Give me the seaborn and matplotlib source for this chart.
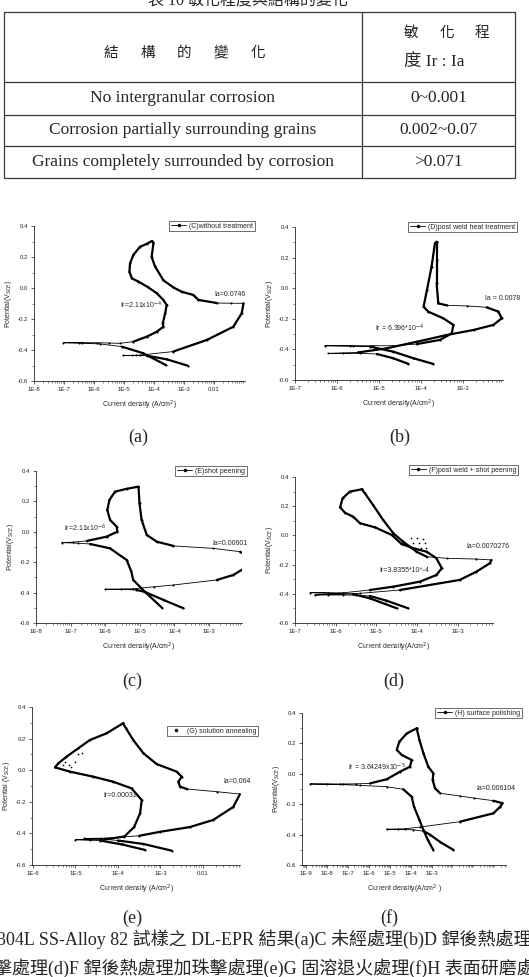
import numpy as np
import pandas as pd
import seaborn as sns
import matplotlib.pyplot as plt
from matplotlib.lines import Line2D
from matplotlib.ticker import LogLocator, MultipleLocator, NullFormatter

sns.set_style("ticks")
plt.rcParams['font.family'] = ['Liberation Sans', 'Noto Sans CJK TC']
plt.rcParams['mathtext.fontset'] = 'dejavusans'
SERIF = ['Liberation Serif', 'Noto Sans CJK TC']

# ---------------- table ----------------
table_title = "表 10 敏化程度與結構的變化"
table_head_left = "結構的變化"
table_head_right = ["敏化程", "度 Ir : Ia"]
table_structure = ["No intergranular corrosion",
                   "Corrosion partially surrounding grains",
                   "Grains completely surrounded by corrosion"]
table_ratio = ["0~0.001", "0.002~0.07", ">0.071"]

# ---------------- DL-EPR curves (log10 current density, potential V) ----------------
a_fwd_logi = [-2.88, -3.58, -4.24, -4.6, -5.02, -4.75, -4.47, -3.36, -2.24, -1.36, -1.08, -1.02,
              -1.45, -1.91, -2.52, -2.63, -2.69, -3.08, -3.36, -3.69, -3.97, -4.08, -4.02, -4.07]
a_fwd_E = [-0.501, -0.46, -0.437, -0.435, -0.435, -0.435, -0.433, -0.41, -0.335, -0.25, -0.163, -0.099,
           -0.098, -0.097, -0.077, -0.056, -0.045, -0.024, 0.004, 0.05, 0.14, 0.2, 0.29, 0.303]
a_rev_logi = [-4.07, -4.24, -4.47, -4.69, -4.8, -4.82, -4.74, -4.52, -4.19, -3.91, -3.69, -3.58, -3.63,
              -3.71, -3.69, -3.91, -4.24, -4.69, -5.13, -5.5, -5.91, -6.5, -7.02, -6.4, -5.8, -5.08,
              -4.36, -3.61]
a_rev_E = [0.303, 0.285, 0.266, 0.213, 0.159, 0.105, 0.062, 0.041, 0.004, -0.034, -0.077, -0.11, -0.163,
           -0.228, -0.25, -0.282, -0.314, -0.346, -0.357, -0.355, -0.353, -0.353, -0.353, -0.356, -0.361,
           -0.378, -0.421, -0.497]

b_fwd_logi = [-4.30, -4.66, -5.05, -5.45, -5.85, -6.21, -5.5, -4.82, -4.1, -3.39, -2.75, -2.28, -2.08,
              -2.16, -2.44, -2.91, -3.39, -3.59, -3.63, -3.63, -3.63]
b_fwd_E = [-0.495, -0.458, -0.43, -0.426, -0.426, -0.426, -0.42, -0.393, -0.35, -0.306, -0.273, -0.24,
           -0.197, -0.153, -0.125, -0.116, -0.112, -0.099, 0.032, 0.184, 0.304]
b_rev_logi = [-3.63, -3.67, -3.75, -3.86, -3.94, -3.83, -3.47, -3.23, -3.27, -3.55, -4.1, -4.66, -5.14,
              -5.61, -6.29, -5.7, -5.21, -4.66, -4.18, -3.71]
b_rev_E = [0.304, 0.293, 0.141, -0.012, -0.121, -0.153, -0.197, -0.24, -0.295, -0.338, -0.365, -0.376,
           -0.376, -0.376, -0.376, -0.379, -0.382, -0.415, -0.458, -0.495]

c_fwd_logi = [-3.74, -4.3, -4.85, -5.1, -5.55, -6.0, -5.2, -4.6, -4.03, -2.78, -2.3, -1.91, -1.84, -2.1,
              -2.88, -4.03, -4.51, -4.8, -4.95, -5.01, -5.04]
c_fwd_E = [-0.503, -0.45, -0.396, -0.382, -0.379, -0.378, -0.375, -0.362, -0.35, -0.317, -0.284, -0.23,
           -0.164, -0.131, -0.109, -0.093, -0.065, -0.021, 0.078, 0.187, 0.297]
c_rev_logi = [-5.04, -5.38, -5.72, -5.88, -5.94, -5.86, -5.67, -5.65, -5.96, -6.53, -6.92, -7.26, -6.8,
              -6.44, -5.86, -5.38, -5.25, -5.19, -4.85, -4.36]
c_rev_E = [0.297, 0.283, 0.264, 0.209, 0.143, 0.078, 0.034, 0.001, -0.032, -0.06, -0.068, -0.071, -0.075,
           -0.08, -0.109, -0.186, -0.26, -0.317, -0.396, -0.50]

d_fwd_logi = [-4.22, -4.75, -5.16, -5.5, -5.81, -6.2, -6.51, -5.4, -4.42, -2.95, -2.54, -2.21, -2.17,
              -2.54, -3.27, -3.76, -4.01, -4.34, -4.58, -4.83, -5.08, -5.28, -5.36]
d_fwd_E = [-0.499, -0.447, -0.415, -0.41, -0.408, -0.408, -0.408, -0.397, -0.374, -0.305, -0.249, -0.191,
           -0.168, -0.162, -0.157, -0.146, -0.112, -0.043, 0.014, 0.105, 0.208, 0.288, 0.316]
d_rev_logi = [-5.36, -5.65, -5.83, -5.89, -5.77, -5.57, -5.4, -5.03, -4.62, -4.38, -4.09, -3.76, -3.52,
              -3.39, -3.52, -3.93, -4.58, -5.16, -5.81, -6.2, -6.63, -5.57, -5.16, -4.5]
d_rev_E = [0.316, 0.30, 0.254, 0.192, 0.155, 0.128, 0.083, 0.055, 0.003, -0.059, -0.088, -0.112, -0.157,
           -0.225, -0.271, -0.317, -0.351, -0.374, -0.393, -0.393, -0.392, -0.402, -0.431, -0.499]
d_noise_logi = [-4.15, -4.0, -3.85, -4.1, -3.95, -3.8, -4.05, -3.9, -3.78]
d_noise_E = [-0.018, -0.02, -0.022, -0.05, -0.052, -0.054, -0.084, -0.086, -0.088]

e_fwd_logi = [-2.74, -3.4, -4.0, -4.4, -4.8, -4.3, -3.5, -3.01, -2.31, -1.76, -1.29, -1.13, -1.68, -2.38,
              -2.54, -2.58, -2.5, -2.62, -3.09, -3.4, -3.64, -3.81, -3.88]
e_fwd_E = [-0.509, -0.467, -0.445, -0.435, -0.432, -0.43, -0.415, -0.39, -0.36, -0.315, -0.233, -0.151,
           -0.136, -0.119, -0.104, -0.073, -0.041, -0.009, 0.039, 0.107, 0.191, 0.265, 0.297]
e_rev_logi = [-3.88, -4.27, -4.66, -4.93, -5.21, -5.4, -5.48, -5.13, -4.58, -4.11, -3.68, -3.44, -3.48,
              -3.62, -3.85, -4.3, -4.65, -5.0, -4.42, -3.9, -3.36]
e_rev_E = [0.297, 0.233, 0.191, 0.139, 0.085, 0.044, 0.018, -0.009, -0.041, -0.073, -0.115, -0.189,
           -0.273, -0.36, -0.42, -0.438, -0.44, -0.44, -0.445, -0.47, -0.505]
e_noise_logi = [-5.3, -5.15, -5.0, -5.25, -4.95, -4.85, -5.1]
e_noise_E = [0.03, 0.035, 0.05, 0.055, 0.1, 0.11, 0.02]

f_fwd_logi = [-1.98, -2.6, -3.1, -3.4, -3.9, -4.6, -5.16, -4.3, -3.57, -1.67, -0.08, 0.25, 0.35, -0.08,
              -1.0, -1.67, -2.62, -2.86, -2.97, -2.94, -3.18, -3.41, -3.6, -3.73]
f_fwd_E = [-0.501, -0.45, -0.40, -0.378, -0.368, -0.366, -0.365, -0.362, -0.35, -0.315, -0.26, -0.216,
           -0.194, -0.177, -0.16, -0.146, -0.128, -0.095, -0.041, 0.003, 0.047, 0.135, 0.222, 0.299]
f_rev_logi = [-3.73, -4.2, -4.56, -4.68, -4.44, -3.97, -4.05, -4.52, -5.16, -5.95, -6.6, -7.22, -8.0,
              -8.81, -7.4, -6.43, -5.16, -4.37, -3.97, -3.86, -3.6, -3.41, -3.2, -2.94]
f_rev_E = [0.299, 0.266, 0.211, 0.157, 0.124, 0.091, 0.047, 0.014, -0.036, -0.063, -0.066, -0.067, -0.067,
           -0.067, -0.07, -0.076, -0.085, -0.102, -0.151, -0.216, -0.304, -0.37, -0.435, -0.501]

legend_labels = ["(C)without treatment", "(D)post weld heat treatment", "(E)shot peening",
                 "(F)post weld + shot peening", "(G) solution annealing", "(H) surface polishing"]
ir_labels = ["Ir=2.11x10$^{-4}$", "Ir = 6.396*10$^{-4}$", "Ir=2.11x10$^{-6}$", "Ir=3.8355*10^-4",
             "Ir=0.00031", "Ir = 3.64249x10$^{-5}$"]
ia_labels = ["Ia=0.0746", "Ia = 0.0078", "Ia=0.00601", "Ia=0.0070276", "Ia=0.064", "Ia=0.006104"]
panel_tags = ["(a)", "(b)", "(c)", "(d)", "(e)", "(f)"]
x_labels = ["Current density (A/cm$^2$)", "Current density(A/cm$^2$)", "Current density(A/cm$^2$)",
            "Current density(A/cm$^2$)", "Current density (A/cm$^2$)", "Current density(A/cm$^2$ )"]
y_labels = ["Potential(V$_{SCE}$)"] * 4 + ["Potential (V$_{SCE}$)", "Potential(V$_{SCE}$)"]
x_decades = [(-8, -2), (-7, -3), (-8, -3), (-7, -3), (-6, -2), (-9, -3)]
y_ticks = [-0.6, -0.4, -0.2, 0.0, 0.2, 0.4]

caption_line1 = "304L SS-Alloy 82 試樣之 DL-EPR 結果(a)C 未經處理(b)D 銲後熱處理"
caption_line2 = "擊處理(d)F 銲後熱處理加珠擊處理(e)G 固溶退火處理(f)H 表面研磨處理"

# ---------------- layout (pixels) ----------------
W, H = 529, 977
# axes box: left, top, right, bottom px ; log10 x-limits
boxes = [(34, 226, 245, 381), (295, 227, 503, 380), (36, 471, 242, 623),
         (295, 477, 493, 623), (32, 707, 240, 865), (302, 713, 506, 865)]
xlims = [(-8.0, -0.97), (-7.0, -2.05), (-8.0, -2.05), (-7.0, -2.13), (-6.02, -1.13), (-9.19, 0.52)]
legend_corner = [(255, 221), (517, 222), (247, 466), (518, 465), (258, 726), (522, 708)]
ir_pos = [(-4.43, -0.11), (-4.52, -0.262), (-6.58, 0.025), (-4.32, -0.237), (-3.95, -0.157), (-5.62, 0.045)]
ia_pos = [(-1.47, -0.04), (-2.07, -0.065), (-2.39, -0.075), (-2.26, -0.073), (-1.2, -0.073), (0.05, -0.1)]
tag_pos = [(138, 437), (400, 437), (132, 681), (394, 681), (132, 918), (389, 918)]

curves = [[(a_fwd_logi, a_fwd_E), (a_rev_logi, a_rev_E)],
          [(b_fwd_logi, b_fwd_E), (b_rev_logi, b_rev_E)],
          [(c_fwd_logi, c_fwd_E), (c_rev_logi, c_rev_E)],
          [(d_fwd_logi, d_fwd_E), (d_rev_logi, d_rev_E)],
          [(e_fwd_logi, e_fwd_E), (e_rev_logi, e_rev_E)],
          [(f_fwd_logi, f_fwd_E), (f_rev_logi, f_rev_E)]]
noise = {3: (d_noise_logi, d_noise_E), 4: (e_noise_logi, e_noise_E)}

fig = plt.figure(figsize=(W / 100, H / 100), dpi=100)

bg = fig.add_axes([0, 0, 1, 1])
bg.set_xlim(0, W)
bg.set_ylim(H, 0)
bg.axis('off')

# table
tx = [4, 362, 515]
ty = [12, 82, 115, 146, 178]
for yy in ty:
    bg.plot([tx[0], tx[-1]], [yy, yy], color='#3a3a3a', lw=0.9)
for xx in tx:
    bg.plot([xx, xx], [ty[0], ty[-1]], color='#3a3a3a', lw=0.9)
bg.text(248, 1, table_title, ha='center', va='center', fontsize=11.5, family=SERIF)
for k, ch in enumerate(table_head_left):
    bg.text(111 + k * 36.7, 53, ch, ha='center', va='center', fontsize=10.5, family=SERIF, color='#222')
for k, ch in enumerate(table_head_right[0]):
    bg.text(411 + k * 35.5, 33, ch, ha='center', va='center', fontsize=10.5, family=SERIF, color='#222')
bg.text(404, 62, table_head_right[1], ha='left', va='center', fontsize=12.5, family=SERIF)
for k, (s, v) in enumerate(zip(table_structure, table_ratio)):
    yc = (ty[k + 1] + ty[k + 2]) / 2
    bg.text((tx[0] + tx[1]) / 2, yc, s, ha='center', va='center', fontsize=12.5, family=SERIF)
    bg.text((tx[1] + tx[2]) / 2, yc, v, ha='center', va='center', fontsize=12.5, family=SERIF)

# captions
for tag, (cx, cy) in zip(panel_tags, tag_pos):
    bg.text(cx, cy, tag, ha='center', va='center', fontsize=13, family=SERIF)
bg.text(-3, 939, caption_line1, ha='left', va='center', fontsize=13, family=SERIF)
bg.text(-6, 968, caption_line2, ha='left', va='center', fontsize=13, family=SERIF)


def draw_curve(ax, logi, pot):
    logi = np.asarray(logi, float)
    pot = np.asarray(pot, float)
    cur = np.power(10.0, logi)
    df = pd.DataFrame({"i": cur, "E": pot})
    sns.lineplot(data=df, x="i", y="E", sort=False, estimator=None, color='k', lw=0.6,
                 marker='o', markersize=1.5, markeredgewidth=0, ax=ax)
    steep = np.abs(np.diff(pot)) > 0.032 * np.maximum(np.abs(np.diff(logi)), 1e-9)
    for k in np.flatnonzero(steep):
        ax.plot(cur[k:k + 2], pot[k:k + 2], color='k', lw=1.6, solid_capstyle='round')


for p in range(6):
    l, t, r, b = boxes[p]
    ax = fig.add_axes([l / W, 1 - b / H, (r - l) / W, (b - t) / H])
    ax.set_xscale('log')
    for logi, pot in curves[p]:
        draw_curve(ax, logi, pot)
    if p in noise:
        nl, ne = noise[p]
        sns.scatterplot(x=np.power(10.0, nl), y=ne, color='k', s=1.5, linewidth=0, ax=ax)
    ax.set_xlim(10 ** xlims[p][0], 10 ** xlims[p][1])
    ax.set_ylim(-0.6, 0.4)
    d0, d1 = x_decades[p]
    xt = [10.0 ** d for d in range(d0, d1 + 1)]
    xl = ["0.01" if d == -2 else "1E%d" % d for d in range(d0, d1 + 1)]
    ax.set_xticks(xt)
    ax.set_xticklabels(xl)
    ax.xaxis.set_minor_locator(LogLocator(base=10, subs=np.arange(2, 10), numticks=60))
    ax.xaxis.set_minor_formatter(NullFormatter())
    ax.set_yticks(y_ticks)
    ax.set_yticklabels(["%.1f" % v for v in y_ticks])
    ax.yaxis.set_minor_locator(MultipleLocator(0.1))
    ax.tick_params(which='major', length=2.5, width=0.5, labelsize=4.3, pad=1.8, colors='#222')
    ax.tick_params(which='minor', length=1.3, width=0.4)
    sns.despine(ax=ax)
    for sp in ('left', 'bottom'):
        ax.spines[sp].set_linewidth(0.6)
    ax.set_xlabel(x_labels[p], fontsize=5, labelpad=4.5)
    ax.set_ylabel(y_labels[p], fontsize=5, labelpad=2.5)
    ax.text(10 ** ir_pos[p][0], ir_pos[p][1], ir_labels[p], fontsize=5, ha='center', va='center',
            clip_on=False)
    ax.text(10 ** ia_pos[p][0], ia_pos[p][1], ia_labels[p], fontsize=5, ha='center', va='center',
            clip_on=False)
    handle = Line2D([], [], color='k', lw=0.6, marker='o', markersize=1.5,
                    ls='none' if p == 4 else '-')
    lx, ly = legend_corner[p]
    leg = ax.legend([handle], [legend_labels[p]], loc='upper right',
                    bbox_to_anchor=(lx / W, 1 - ly / H), bbox_transform=fig.transFigure,
                    fontsize=5, frameon=True, fancybox=False, edgecolor='#333', framealpha=1,
                    handlelength=2.2, handletextpad=0.4, borderpad=0.25, borderaxespad=0)
    leg.get_frame().set_linewidth(0.5)

fig.savefig("out.png", dpi=100)
